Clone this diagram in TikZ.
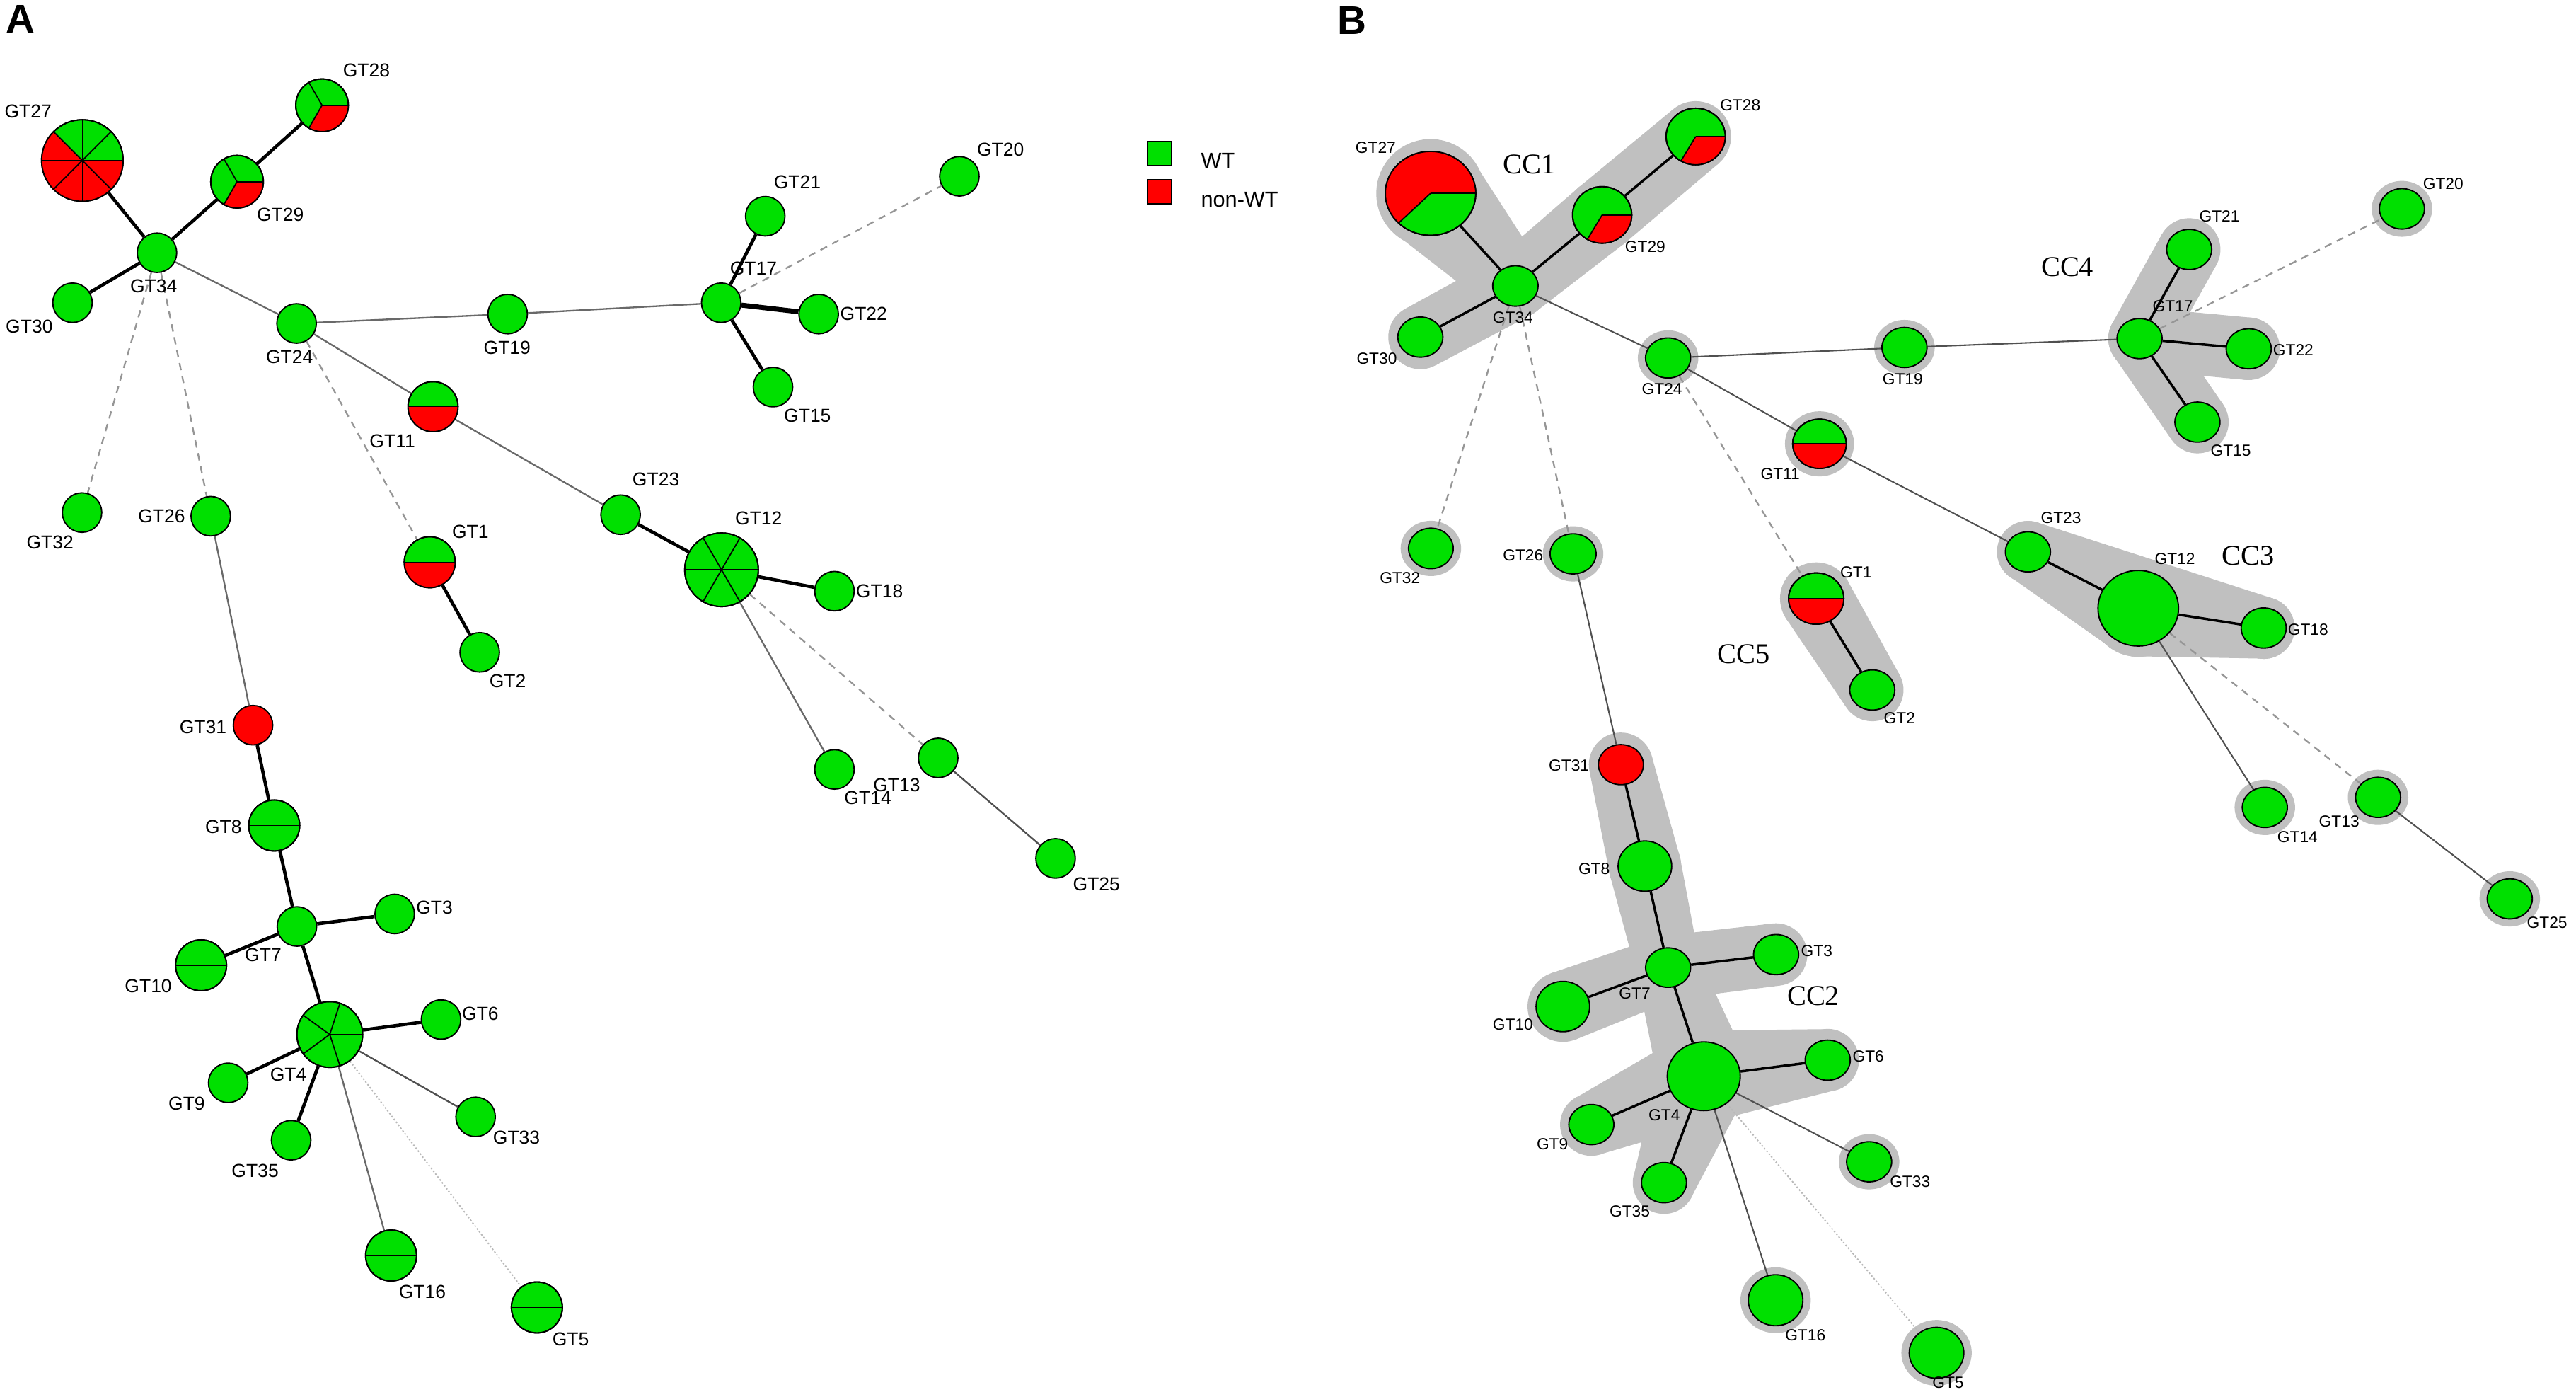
\documentclass[tikz,border=0pt]{standalone}
\usepackage{fontspec}
\setmainfont{Liberation Sans}
\newfontfamily\serifcc{Liberation Serif}
\usetikzlibrary{shapes.geometric,calc}
\definecolor{wtg}{RGB}{0,224,0}
\definecolor{nwr}{RGB}{255,0,0}
\definecolor{halog}{RGB}{192,192,192}
\definecolor{edg}{RGB}{105,105,105}
\definecolor{edgb}{RGB}{80,80,80}
\definecolor{dsh}{RGB}{150,150,150}
\definecolor{dtt}{RGB}{185,185,185}
\pgfdeclarelayer{bg}
\pgfdeclarelayer{edges}
\pgfsetlayers{bg,edges,main}
% color, node, xr, yr, start, end (visual angles, ccw)
\newcommand\pieslice[6]{\fill[#1] (#2.center) -- ++({-(#5)}:{#3} and {#4}) arc[start angle={-(#5)}, end angle={-(#6)}, x radius={#3}, y radius={#4}] -- cycle;}
\newcommand\pieline[4]{\draw[line width=0.75pt] (#1.center) -- ++({-(#4)}:{#2} and {#3});}
\newcommand\pierim[3]{\draw[line width=0.8pt] (#1.center) ellipse[x radius={#2}, y radius={#3}];}
\newcommand\halo[3]{\fill[halog] (#1.center) ellipse[x radius={#2}, y radius={#3}];}
\newcommand\hull[4]{%
 \fill[halog] (#1.center) circle[radius=#2] (#3.center) circle[radius=#4];
 \fill[halog] ($(#1.center)!#2pt!90:(#3.center)$) -- ($(#3.center)!#4pt!-90:(#1.center)$) -- ($(#3.center)!#4pt!90:(#1.center)$) -- ($(#1.center)!#2pt!-90:(#3.center)$) -- cycle;}
\tikzset{
 an/.style={circle, draw=black, line width=0.8pt, fill=wtg, inner sep=0pt, minimum size=#1pt},
 bn/.style 2 args={ellipse, draw=black, line width=0.8pt, fill=wtg, inner sep=0pt, minimum width=#1pt, minimum height=#2pt},
 la/.style={font=\fontsize{11.4}{13}\selectfont, inner sep=0pt},
 lb/.style={font=\fontsize{9.8}{11}\selectfont, inner sep=0pt},
 cclab/.style={font=\serifcc\fontsize{17.4}{19}\selectfont, inner sep=0pt},
 panel/.style={font=\bfseries\fontsize{24.4}{26}\selectfont, inner sep=0pt},
 legtext/.style={font=\fontsize{13.2}{15}\selectfont, inner sep=0pt, anchor=west},
 legbox/.style={draw=black, line width=0.8pt, minimum size=14.6pt, inner sep=0pt},
 tk/.style={draw=black, line width=2pt},
 tkk/.style={draw=black, line width=3pt},
 gr/.style={draw=edg, line width=1pt},
 ds/.style={draw=dsh, line width=1pt, dash pattern=on 4.5pt off 3.5pt},
 dt/.style={draw=dtt, line width=0.8pt, dash pattern=on 1pt off 1.2pt},
 btk/.style={draw=black, line width=1.5pt},
 bgr/.style={draw=edgb, line width=0.9pt},
}
\begin{document}
\begin{tikzpicture}[x=1pt,y=-1pt]
\useasboundingbox (0,0) rectangle (1567,849.2);
\begin{pgfonlayer}{bg}
\fill[white] (0,0) rectangle (1567,849.2);
\end{pgfonlayer}

% ================= PANEL A =================
\node[panel] (pA) at (12.3,11.8) {A};
\node[an=49.6] (A27) at (50.1,97.6) {};
\node[an=32] (A28) at (195.9,64.0) {};
\node[an=32] (A29) at (144.2,110.5) {};
\node[an=24] (A34) at (95.5,153.7) {};
\node[an=24] (A30) at (44.1,184.1) {};
\node[an=24] (A24) at (180.4,196.7) {};
\node[an=24] (A19) at (308.8,191.0) {};
\node[an=24] (A17) at (438.7,184.1) {};
\node[an=24] (A21) at (465.5,131.5) {};
\node[an=24] (A22) at (498,191.0) {};
\node[an=24] (A15) at (470.2,235.4) {};
\node[an=24] (A20) at (583.6,107.2) {};
\node[an=30.4] (A11) at (263.4,247.3) {};
\node[an=24] (A23) at (377.5,313) {};
\node[an=44.8] (A12) at (438.9,346.5) {};
\node[an=24] (A18) at (507.6,359.5) {};
\node[an=24] (A14) at (507.6,467.9) {};
\node[an=24] (A13) at (570.7,460.9) {};
\node[an=24] (A25) at (642.1,522.0) {};
\node[an=24] (A32) at (49.9,311.7) {};
\node[an=24] (A26) at (128.2,313.9) {};
\node[an=31] (A1) at (261.4,341.9) {};
\node[an=24] (A2) at (291.8,396.7) {};
\node[an=24, fill=nwr] (A31) at (153.9,441.0) {};
\node[an=31] (A8) at (166.8,502.0) {};
\node[an=24] (A7) at (180.6,563.4) {};
\node[an=24] (A3) at (240.1,555.8) {};
\node[an=31] (A10) at (122.3,587.0) {};
\node[an=40] (A4) at (200.6,629.1) {};
\node[an=24] (A6) at (268.3,620.0) {};
\node[an=24] (A9) at (138.8,658.5) {};
\node[an=24] (A35) at (177.1,693.4) {};
\node[an=24] (A33) at (289.3,679.2) {};
\node[an=31] (A16) at (237.9,763.5) {};
\node[an=31] (A5) at (326.6,795.1) {};

% pies A
\pieslice{nwr}{A27}{24.8}{24.8}{135}{360}
\foreach \a in {0,45,...,315} {\pieline{A27}{24.8}{24.8}{\a}}
\pierim{A27}{24.8}{24.8}
\foreach \n in {A28,A29} {
 \pieslice{nwr}{\n}{16}{16}{240}{360}
 \foreach \a in {0,120,240} {\pieline{\n}{16}{16}{\a}}
 \pierim{\n}{16}{16}}
\pieslice{nwr}{A11}{15.2}{15.2}{180}{360}
\pieline{A11}{15.2}{15.2}{0}\pieline{A11}{15.2}{15.2}{180}
\pierim{A11}{15.2}{15.2}
\pieslice{nwr}{A1}{15.5}{15.5}{180}{360}
\foreach \n in {A1,A8,A10,A16,A5} {\pieline{\n}{15.5}{15.5}{0}\pieline{\n}{15.5}{15.5}{180}\pierim{\n}{15.5}{15.5}}
\foreach \a in {0,60,...,300} {\pieline{A12}{22.4}{22.4}{\a}}
\pierim{A12}{22.4}{22.4}
\foreach \a in {0,72,144,216,288} {\pieline{A4}{20}{20}{\a}}
\pierim{A4}{20}{20}

% labels A
\node[la] (lA27) at (17.1,67.6) {GT27};
\node[la] (lA28) at (222.9,42.7) {GT28};
\node[la] (lA29) at (170.5,130.6) {GT29};
\node[la] (lA34) at (93.5,173.9) {GT34};
\node[la] (lA30) at (17.8,198.5) {GT30};
\node[la] (lA24) at (176.1,217.1) {GT24};
\node[la] (lA19) at (308.5,211.3) {GT19};
\node[la] (lA17) at (458.3,163.3) {GT17};
\node[la] (lA21) at (485,110.9) {GT21};
\node[la] (lA22) at (525.4,191.0) {GT22};
\node[la] (lA15) at (491.2,252.7) {GT15};
\node[la] (lA20) at (608.6,91.1) {GT20};
\node[la] (lA11) at (238.7,268.4) {GT11};
\node[la] (lA23) at (399,291.5) {GT23};
\node[la] (lA12) at (461.5,315.1) {GT12};
\node[la] (lA18) at (535,359.5) {GT18};
\node[la] (lA14) at (527.9,485.1) {GT14};
\node[la] (lA13) at (545.5,477.3) {GT13};
\node[la] (lA25) at (667,537.5) {GT25};
\node[la] (lA32) at (30.4,329.8) {GT32};
\node[la] (lA26) at (98.3,313.9) {GT26};
\node[la] (lA1) at (286.1,323.4) {GT1};
\node[la] (lA2) at (308.8,414.1) {GT2};
\node[la] (lA31) at (123.5,442.1) {GT31};
\node[la] (lA8) at (135.9,502.7) {GT8};
\node[la] (lA3) at (264.3,552.1) {GT3};
\node[la] (lA7) at (160.1,580.8) {GT7};
\node[la] (lA10) at (90.2,599.7) {GT10};
\node[la] (lA6) at (292.2,616.4) {GT6};
\node[la] (lA4) at (175.4,653.5) {GT4};
\node[la] (lA9) at (113.6,670.9) {GT9};
\node[la] (lA33) at (314.2,691.9) {GT33};
\node[la] (lA35) at (155.2,711.9) {GT35};
\node[la] (lA16) at (256.9,785.6) {GT16};
\node[la] (lA5) at (347.1,814.3) {GT5};

% legend
\node[legbox, fill=wtg] (legWT) at (705.4,93.2) {};
\node[legbox, fill=nwr] (legNW) at (705.4,116.6) {};
\node[legtext] (tWT) at (730.4,97.6) {WT};
\node[legtext] (tNW) at (730.4,121.2) {non-WT};

\begin{pgfonlayer}{edges}
\draw[tk] (A27) -- (A34);
\draw[tk] (A29) -- (A34);
\draw[tk] (A28) -- (A29);
\draw[tk] (A30) -- (A34);
\draw[gr] (A34) -- (A24);
\draw[gr] (A24) -- (A19);
\draw[gr] (A19) -- (A17);
\draw[tk] (A17) -- (A21);
\draw[tkk] (A17) -- (A22);
\draw[tk] (A17) -- (A15);
\draw[ds] (A17) -- (A20);
\draw[gr] (A24) -- (A11);
\draw[gr] (A11) -- (A23);
\draw[tk] (A23) -- (A12);
\draw[tk] (A12) -- (A18);
\draw[gr] (A12) -- (A14);
\draw[ds] (A12) -- (A13);
\draw[gr, draw=edgb] (A13) -- (A25);
\draw[ds] (A24) -- (A1);
\draw[tk] (A1) -- (A2);
\draw[ds] (A34) -- (A32);
\draw[ds] (A34) -- (A26);
\draw[gr] (A26) -- (A31);
\draw[tk] (A31) -- (A8);
\draw[tk] (A8) -- (A7);
\draw[tk] (A7) -- (A3);
\draw[tk] (A7) -- (A10);
\draw[tk] (A7) -- (A4);
\draw[tk] (A4) -- (A6);
\draw[tk] (A4) -- (A9);
\draw[tk] (A4) -- (A35);
\draw[gr, draw=edgb] (A4) -- (A33);
\draw[gr] (A4) -- (A16);
\draw[dt] (A4) -- (A5);
\end{pgfonlayer}

% ================= PANEL B =================
\node[panel] (pB) at (822.5,12.5) {B};
\node[bn={55}{51}] (B27) at (870.2,117.6) {};
\node[bn={36}{34.4}] (B28) at (1031.5,83.0) {};
\node[bn={36}{34.4}] (B29) at (974.6,130.7) {};
\node[bn={27.6}{24.6}] (B34) at (921.8,173.9) {};
\node[bn={27.4}{24.4}] (B30) at (864,205) {};
\node[bn={27.4}{24.4}] (B24) at (1014.7,217.7) {};
\node[bn={27.4}{24.4}] (B19) at (1158.5,211.3) {};
\node[bn={32.6}{30}] (B11) at (1106.8,269.9) {};
\node[bn={27.4}{24.6}] (B20) at (1461.1,127) {};
\node[bn={27.4}{24.4}] (B21) at (1331.7,151.7) {};
\node[bn={27.4}{24.4}] (B17) at (1301.5,205.9) {};
\node[bn={27.4}{24.4}] (B22) at (1367.9,212.1) {};
\node[bn={27.4}{24.4}] (B15) at (1336.7,256.7) {};
\node[bn={27.4}{24.4}] (B23) at (1233.6,335.6) {};
\node[bn={49}{46}] (B12) at (1300.7,369.9) {};
\node[bn={27.4}{24.4}] (B18) at (1377,381.9) {};
\node[bn={27.4}{24.4}] (B14) at (1377.7,491) {};
\node[bn={27.4}{24.4}] (B13) at (1446.6,484.9) {};
\node[bn={27.4}{24.4}] (B25) at (1526.7,546.6) {};
\node[bn={27.2}{24.6}] (B32) at (870.4,333.5) {};
\node[bn={28}{24.4}] (B26) at (956.9,336.8) {};
\node[bn={33.6}{31.2}] (B1) at (1104.8,364) {};
\node[bn={27.4}{24.4}] (B2) at (1138.9,419.6) {};
\node[bn={27.4}{24.4}, fill=nwr] (B31) at (986,465) {};
\node[bn={32.6}{30.6}] (B8) at (1000.6,526.7) {};
\node[bn={27.4}{24}] (B7) at (1014.7,588.4) {};
\node[bn={27.4}{24.4}] (B3) at (1080.4,580.5) {};
\node[bn={32.6}{30.6}] (B10) at (950.7,612.1) {};
\node[bn={44.4}{41.8}] (B4) at (1036.4,654.5) {};
\node[bn={27.4}{24.4}] (B6) at (1111.8,644.7) {};
\node[bn={27.4}{24.4}] (B9) at (968,683.9) {};
\node[bn={27.4}{24.4}] (B35) at (1012.2,719.2) {};
\node[bn={27.4}{24.4}] (B33) at (1137,706.5) {};
\node[bn={33.2}{31}] (B16) at (1080.1,790.7) {};
\node[bn={33.2}{31}] (B5) at (1178,822.7) {};

% pies B
\pieslice{nwr}{B27}{27.5}{25.5}{0}{225}
\pieline{B27}{27.5}{25.5}{0}\pieline{B27}{27.5}{25.5}{225}
\pierim{B27}{27.5}{25.5}
\foreach \n in {B28,B29} {
 \pieslice{nwr}{\n}{18}{17.2}{240}{360}
 \pieline{\n}{18}{17.2}{0}\pieline{\n}{18}{17.2}{240}
 \pierim{\n}{18}{17.2}}
\pieslice{nwr}{B11}{16.3}{15}{180}{360}
\pieline{B11}{16.3}{15}{0}\pieline{B11}{16.3}{15}{180}
\pierim{B11}{16.3}{15}
\pieslice{nwr}{B1}{16.8}{15.6}{180}{360}
\pieline{B1}{16.8}{15.6}{0}\pieline{B1}{16.8}{15.6}{180}
\pierim{B1}{16.8}{15.6}

% cluster bands and halos
\begin{pgfonlayer}{bg}
% CC1
\hull{B27}{33}{B34}{20}
\hull{B34}{20}{B30}{19.5}
\hull{B34}{20}{B29}{22}
\hull{B29}{22}{B28}{21.5}
% CC2
\hull{B31}{19.5}{B8}{22}
\hull{B8}{22}{B7}{19.5}
\hull{B7}{19.5}{B4}{28}
\hull{B7}{19.5}{B10}{21.5}
\hull{B7}{19.5}{B3}{19}
\hull{B4}{28}{B6}{19}
\hull{B4}{28}{B9}{19}
\hull{B4}{28}{B35}{19}
% CC3
\fill[halog] (B23.center) -- (B12.center) -- (B18.center) -- cycle;
\hull{B23}{18.8}{B12}{29.5}
\hull{B12}{29.5}{B18}{18.8}
\hull{B23}{18.8}{B18}{18.8}
% CC4
\hull{B17}{19}{B21}{19}
\hull{B17}{19}{B22}{19}
\hull{B17}{19}{B15}{19}
% CC5
\hull{B1}{22}{B2}{19}
% isolated halos
\halo{B24}{18.4}{16.8}
\halo{B19}{18.4}{16.8}
\halo{B11}{21}{19.8}
\halo{B20}{18.4}{17}
\halo{B32}{18.4}{16.8}
\halo{B26}{18.4}{16.8}
\halo{B14}{18.4}{16.8}
\halo{B13}{18.4}{16.8}
\halo{B25}{18.4}{16.8}
\halo{B33}{18.4}{16.8}
\halo{B16}{21.4}{20}
\halo{B5}{21.4}{20}
\end{pgfonlayer}

\begin{pgfonlayer}{edges}
\draw[btk] (B27) -- (B34);
\draw[btk] (B29) -- (B34);
\draw[btk] (B28) -- (B29);
\draw[btk] (B30) -- (B34);
\draw[bgr] (B34) -- (B24);
\draw[bgr] (B24) -- (B19);
\draw[bgr] (B19) -- (B17);
\draw[btk] (B17) -- (B21);
\draw[btk] (B17) -- (B22);
\draw[btk] (B17) -- (B15);
\draw[ds] (B17) -- (B20);
\draw[bgr] (B24) -- (B11);
\draw[bgr] (B11) -- (B23);
\draw[btk] (B23) -- (B12);
\draw[btk] (B12) -- (B18);
\draw[bgr] (B12) -- (B14);
\draw[ds] (B12) -- (B13);
\draw[bgr] (B13) -- (B25);
\draw[ds] (B24) -- (B1);
\draw[btk] (B1) -- (B2);
\draw[ds] (B34) -- (B32);
\draw[ds] (B34) -- (B26);
\draw[bgr] (B26) -- (B31);
\draw[btk] (B31) -- (B8);
\draw[btk] (B8) -- (B7);
\draw[btk] (B7) -- (B3);
\draw[btk] (B7) -- (B10);
\draw[btk] (B7) -- (B4);
\draw[btk] (B4) -- (B6);
\draw[btk] (B4) -- (B9);
\draw[btk] (B4) -- (B35);
\draw[bgr] (B4) -- (B33);
\draw[bgr] (B4) -- (B16);
\draw[dt] (B4) -- (B5);
\end{pgfonlayer}

% labels B
\node[lb] (lB27) at (836.8,89.7) {GT27};
\node[lb] (lB28) at (1058.6,64) {GT28};
\node[lb] (lB29) at (1000.8,149.9) {GT29};
\node[lb] (lB34) at (920.3,193.1) {GT34};
\node[lb] (lB30) at (837.5,218.1) {GT30};
\node[lb] (lB24) at (1011,236.7) {GT24};
\node[lb] (lB19) at (1157.4,230.6) {GT19};
\node[lb] (lB11) at (1082.9,288.2) {GT11};
\node[lb] (lB20) at (1486.2,111.9) {GT20};
\node[lb] (lB21) at (1350.1,131.5) {GT21};
\node[lb] (lB17) at (1321.7,186.4) {GT17};
\node[lb] (lB22) at (1395,212.8) {GT22};
\node[lb] (lB15) at (1357,273.9) {GT15};
\node[lb] (lB23) at (1253.7,315) {GT23};
\node[lb] (lB12) at (1323,339.7) {GT12};
\node[lb] (lB18) at (1404,383) {GT18};
\node[lb] (lB14) at (1397.6,508.9) {GT14};
\node[lb] (lB13) at (1422.9,499.6) {GT13};
\node[lb] (lB25) at (1549.4,561) {GT25};
\node[lb] (lB32) at (851.6,351.3) {GT32};
\node[lb] (lB26) at (926.5,337.9) {GT26};
\node[lb] (lB1) at (1129,348) {GT1};
\node[lb] (lB2) at (1155.5,436.6) {GT2};
\node[lb] (lB31) at (954.4,465.7) {GT31};
\node[lb] (lB8) at (969.7,528.5) {GT8};
\node[lb] (lB3) at (1105.1,578.3) {GT3};
\node[lb] (lB7) at (994.4,604) {GT7};
\node[lb] (lB10) at (920.3,623) {GT10};
\node[lb] (lB6) at (1136.5,642.2) {GT6};
\node[lb] (lB4) at (1012.4,678.1) {GT4};
\node[lb] (lB9) at (944.3,695.6) {GT9};
\node[lb] (lB33) at (1161.9,718.5) {GT33};
\node[lb] (lB35) at (991.4,736.6) {GT35};
\node[lb] (lB16) at (1098.2,811.8) {GT16};
\node[lb] (lB5) at (1185,841) {GT5};

\node[cclab] (cc1) at (930.2,99.9) {CC1};
\node[cclab] (cc2) at (1103.1,605.8) {CC2};
\node[cclab] (cc3) at (1367.4,338) {CC3};
\node[cclab] (cc4) at (1257.6,162.3) {CC4};
\node[cclab] (cc5) at (1060.6,397.8) {CC5};
\end{tikzpicture}
\end{document}
